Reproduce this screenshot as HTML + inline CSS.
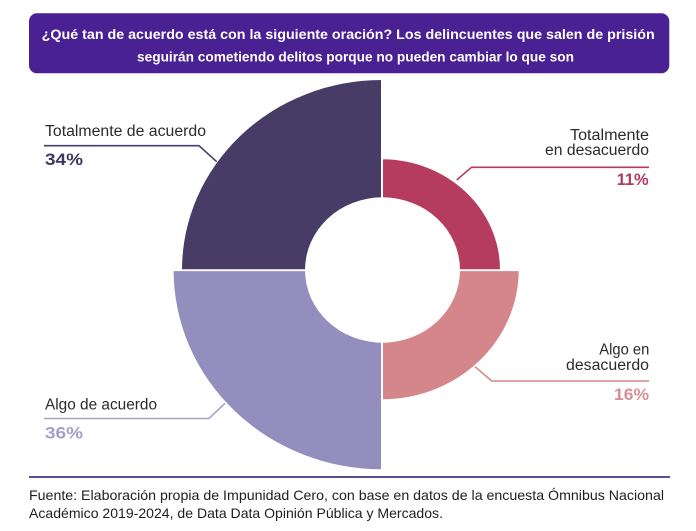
<!DOCTYPE html>
<html>
<head>
<meta charset="utf-8">
<style>
  html, body { margin: 0; padding: 0; background: #ffffff; }
  body { width: 696px; height: 531px; overflow: hidden; }
  svg { display: block; }
  text { font-family: "Liberation Sans", "DejaVu Sans", sans-serif; }
  .cond { font-family: "Liberation Sans Narrow", "Liberation Sans", sans-serif; }
</style>
</head>
<body>
<svg width="696" height="531" viewBox="0 0 696 531" xmlns="http://www.w3.org/2000/svg">
  <rect x="0" y="0" width="696" height="531" fill="#ffffff"/>

  <!-- Header -->
  <rect x="29" y="13.3" width="640.3" height="60" rx="8" ry="8" fill="#4a2192"/>
  <text class="cond" x="41.7" y="39" font-size="14" font-weight="bold" fill="#ffffff" textLength="613" lengthAdjust="spacingAndGlyphs">¿Qué tan de acuerdo está con la siguiente oración?  Los delincuentes que salen de prisión</text>
  <text class="cond" x="137" y="61.7" font-size="14" font-weight="bold" fill="#ffffff" textLength="437" lengthAdjust="spacingAndGlyphs">seguirán cometiendo delitos porque no pueden cambiar lo que son</text>

  <!-- Sectors -->
  <path d="M382 270 L182 270 A200 190 0 0 1 382 80 Z" fill="#463c66"/>
  <path d="M382 270 L382 469.3 A208.4 199.3 0 0 1 173.6 270 Z" fill="#938ebd"/>
  <path d="M382 270 L382 159.3 A118 110.7 0 0 1 500 270 Z" fill="#b53c5f"/>
  <path d="M382 270 L518.7 270 A136.7 129.3 0 0 1 382 399.3 Z" fill="#d4868a"/>
  <!-- gaps -->
  <line x1="382" y1="79" x2="382" y2="471" stroke="#ffffff" stroke-width="2"/>
  <line x1="165" y1="270.2" x2="530" y2="270.2" stroke="#ffffff" stroke-width="1.8"/>
  <!-- hole -->
  <ellipse cx="382.5" cy="270" rx="77.5" ry="72.7" fill="#ffffff"/>

  <!-- Leader lines -->
  <polyline points="44,145.7 199,145.7 216.7,161.7" fill="none" stroke="#463c66" stroke-width="1.6"/>
  <polyline points="649,167.3 471.5,167.3 456.7,180" fill="none" stroke="#b53c5f" stroke-width="1.6"/>
  <polyline points="44,418.5 209,418.5 225,403.3" fill="none" stroke="#a39fcb" stroke-width="1.6"/>
  <polyline points="649,381 491.7,381 475,366.7" fill="none" stroke="#d4868a" stroke-width="1.6"/>

  <!-- Labels left -->
  <text x="45" y="136" font-size="15.5" fill="#2b2b2b" textLength="161" lengthAdjust="spacingAndGlyphs">Totalmente de acuerdo</text>
  <text x="45" y="165" font-size="16.5" font-weight="bold" fill="#3f3760" textLength="38" lengthAdjust="spacingAndGlyphs">34%</text>
  <text x="45" y="409.3" font-size="15.5" fill="#2b2b2b" textLength="112" lengthAdjust="spacingAndGlyphs">Algo de acuerdo</text>
  <text x="45" y="438.3" font-size="16.5" font-weight="bold" fill="#a39fcb" textLength="38" lengthAdjust="spacingAndGlyphs">36%</text>

  <!-- Labels right -->
  <text x="570" y="140" font-size="15.5" fill="#2b2b2b" textLength="79" lengthAdjust="spacingAndGlyphs">Totalmente</text>
  <text x="545" y="155" font-size="15.5" fill="#2b2b2b" textLength="104" lengthAdjust="spacingAndGlyphs">en desacuerdo</text>
  <text x="616.7" y="185" font-size="16.5" font-weight="bold" fill="#b03a5e" textLength="32" lengthAdjust="spacingAndGlyphs">11%</text>
  <text x="599.3" y="354.3" font-size="15.5" fill="#2b2b2b" textLength="50" lengthAdjust="spacingAndGlyphs">Algo en</text>
  <text x="566" y="370" font-size="15.5" fill="#2b2b2b" textLength="83" lengthAdjust="spacingAndGlyphs">desacuerdo</text>
  <text x="614" y="400" font-size="16.5" font-weight="bold" fill="#d88f93" textLength="35" lengthAdjust="spacingAndGlyphs">16%</text>

  <!-- Footer -->
  <line x1="29" y1="477" x2="670" y2="477" stroke="#5c4d94" stroke-width="2"/>
  <text class="cond" x="29" y="500" font-size="14" fill="#1e1e1e" textLength="635" lengthAdjust="spacingAndGlyphs">Fuente: Elaboración propia de Impunidad Cero, con base en datos de la encuesta Ómnibus Nacional</text>
  <text class="cond" x="29" y="518" font-size="14" fill="#1e1e1e" textLength="414" lengthAdjust="spacingAndGlyphs">Académico 2019-2024, de Data Data Opinión Pública y Mercados.</text>
</svg>
</body>
</html>
